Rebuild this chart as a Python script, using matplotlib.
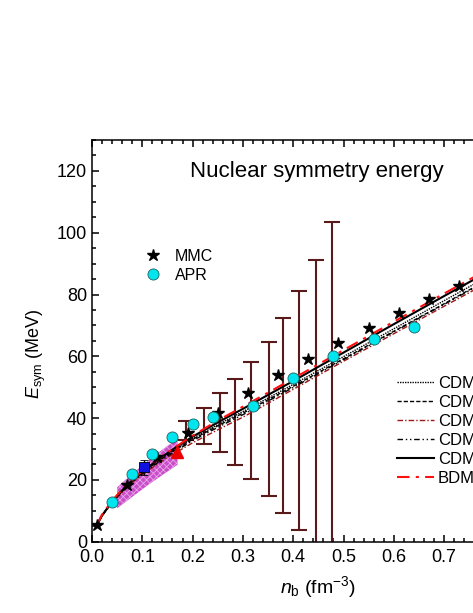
import numpy as np
import matplotlib
matplotlib.use("Agg")
import matplotlib.pyplot as plt
from matplotlib.lines import Line2D

plt.rcParams['font.family'] = ['Liberation Sans', 'DejaVu Sans']
plt.rcParams['mathtext.fontset'] = 'custom'
plt.rcParams['mathtext.rm'] = 'Liberation Sans'
plt.rcParams['mathtext.it'] = 'Liberation Sans:italic'
plt.rcParams['hatch.linewidth'] = 0.6

# model curves
nb_curve = [0.01, 0.02, 0.04, 0.07, 0.10, 0.13, 0.16, 0.20, 0.25, 0.30, 0.40, 0.50, 0.60, 0.70, 0.80, 0.90]
cdm_dot = [5.4, 8.5, 13.0, 18.3, 22.4, 26.1, 29.4, 33.4, 37.9, 42.1, 50.9, 59.9, 68.9, 78.0, 87.0, 96.0]
cdm_dash = [5.4, 8.5, 12.9, 18.2, 22.3, 25.9, 29.1, 33.1, 37.5, 41.6, 50.3, 59.2, 68.1, 77.0, 86.0, 95.0]
cdm_dashdot_red = [5.3, 8.3, 12.6, 17.8, 21.7, 25.1, 28.2, 32.0, 36.2, 40.3, 49.3, 58.4, 67.3, 76.2, 85.0, 93.8]
cdm_dashdotdot = [5.4, 8.4, 12.8, 18.0, 22.0, 25.5, 28.7, 32.7, 37.0, 41.1, 49.9, 58.9, 67.9, 76.8, 85.7, 94.6]
cdm_solid = [5.4, 8.5, 13.0, 18.4, 22.6, 26.4, 29.8, 34.0, 38.6, 43.0, 52.0, 61.2, 70.4, 79.5, 88.5, 97.5]
bdm_red = [5.6, 8.8, 13.3, 18.7, 22.9, 26.6, 30.0, 34.3, 39.2, 43.7, 52.8, 62.0, 71.2, 80.3, 89.3, 98.3]
curve_labels = ['CDM3Y3', 'CDM3Y4', 'CDM3Y5', 'CDM3Y6', 'CDM3Y8', 'BDM3Y1']

# MMC and APR points
nb_mmc = [0.01, 0.07, 0.13, 0.19, 0.25, 0.31, 0.37, 0.43, 0.49, 0.55, 0.61, 0.67, 0.73]
esym_mmc = [5.4, 18.4, 27.5, 35.1, 41.8, 48.1, 53.8, 59.1, 64.3, 69.2, 74.0, 78.6, 82.9]
nb_apr = [0.04, 0.08, 0.12, 0.16, 0.20, 0.24, 0.32, 0.40, 0.48, 0.56, 0.64]
esym_apr = [13.0, 21.8, 28.4, 34.0, 38.0, 40.5, 44.0, 53.0, 60.0, 65.6, 69.4]

# constraint error bars (lower / upper ends)
nb_bars = [0.186, 0.223, 0.254, 0.284, 0.317, 0.351, 0.380, 0.412, 0.445, 0.477]
bar_lo = [33.0, 31.7, 28.9, 24.9, 20.2, 14.8, 9.4, 3.8, -2.0, -9.0]
bar_hi = [39.2, 43.4, 48.1, 52.7, 58.2, 64.6, 72.3, 81.0, 91.3, 103.6]

# hatched band
nb_band = [0.05, 0.08, 0.11, 0.14, 0.17]
band_lo = [10.8, 14.5, 18.2, 21.6, 24.9]
band_hi = [17.6, 22.0, 26.0, 29.8, 33.3]

# single points
nb_square, esym_square, err_square = 0.103, 24.1, 2.5
nb_tri, esym_tri = 0.168, 29.0

fig = plt.figure(figsize=(4.73, 6.13), dpi=100)
ax = fig.add_axes([92/473, 71.3/613, 452.7/473, 401.7/613])

ax.fill_between(nb_band, band_lo, band_hi, facecolor='#c94fc9', edgecolor='#e9a3e9',
                hatch='xxxxx', linewidth=0, zorder=1)

lo = np.array(bar_lo)
hi = np.array(bar_hi)
ax.errorbar(nb_bars, (lo + hi) / 2, yerr=(hi - lo) / 2, fmt='none', ecolor='#5a1a1a',
            elinewidth=1.5, capsize=5.5, capthick=1.5, zorder=2)

dark_red = '#a01515'
styles = [
    dict(color='black', ls=(0, (1, 0.8)), lw=1.0),
    dict(color='black', ls=(0, (3, 1.5)), lw=1.0),
    dict(color=dark_red, ls=(0, (4, 1.5, 1, 1.5)), lw=1.0),
    dict(color='black', ls=(0, (4, 2, 1, 2, 1, 2)), lw=1.0),
    dict(color='black', ls='-', lw=1.5),
    dict(color='#ff1010', ls=(0, (6, 3, 1.5, 3)), lw=1.5),
]
curves = [cdm_dot, cdm_dash, cdm_dashdot_red, cdm_dashdotdot, cdm_solid, bdm_red]
handles = []
for ys, st, lab in zip(curves, styles, curve_labels):
    h, = ax.plot(nb_curve, ys, label=lab, zorder=3, **st)
    handles.append(h)

ax.errorbar([nb_square], [esym_square], yerr=[err_square], fmt='s', color='#1010e0',
            mec='black', mew=0.6, ms=7, ecolor='black', elinewidth=1, capsize=3, zorder=4)
ax.plot([nb_tri], [esym_tri], '^', color='#ee0000', mec='#ee0000', ms=8, zorder=4)

ax.plot(nb_mmc, esym_mmc, '*', color='black', ms=9, ls='none', zorder=5)
ax.plot(nb_apr, esym_apr, 'o', mfc='#00e5ee', mec='#206060', mew=0.6, ms=8, ls='none', zorder=5)

ax.set_xlim(0, 0.9)
ax.set_ylim(0, 130)
ax.set_xticks(np.arange(0, 0.91, 0.1))
ax.set_xticks(np.arange(0, 0.91, 0.02), minor=True)
ax.set_yticks(np.arange(0, 121, 20))
ax.set_yticks(np.arange(0, 131, 5), minor=True)
ax.xaxis.set_major_formatter(matplotlib.ticker.FormatStrFormatter('%.1f'))
ax.tick_params(which='both', direction='in', top=True, right=True, labelsize=13, width=1.1)
ax.tick_params(which='major', length=5)
ax.tick_params(which='minor', length=3)
ax.tick_params(axis='x', pad=5)
for sp in ax.spines.values():
    sp.set_linewidth(1.1)

ax.set_xlabel(r'$n_{\mathrm{b}}$ (fm$^{-3}$)', fontsize=14, labelpad=6)
ax.set_ylabel(r'$E_{\mathrm{sym}}$ (MeV)', fontsize=13)
ax.yaxis.set_label_coords(-44/452.7, 0.468)
ax.text(0.195, 119.8, 'Nuclear symmetry energy', fontsize=16, ha='left', va='center')

pts = [Line2D([], [], marker='*', color='black', ls='none', ms=9),
       Line2D([], [], marker='o', mfc='#00e5ee', mec='#206060', mew=0.6, ls='none', ms=8)]
leg1 = ax.legend(pts, ['MMC', 'APR'], loc='upper left', bbox_to_anchor=(135/473, 1 - 241/613),
                 bbox_transform=fig.transFigure, frameon=False, fontsize=11.5,
                 handlelength=1.2, handletextpad=0.8, labelspacing=0.25, borderpad=0)
ax.add_artist(leg1)
ax.legend(handles, curve_labels, loc='upper left', bbox_to_anchor=(397/473, 1 - 376/613),
          bbox_transform=fig.transFigure, frameon=False, fontsize=12,
          handlelength=2.2, handletextpad=0.25, labelspacing=0.24, borderpad=0,
          borderaxespad=0)

fig.savefig('out.png', dpi=100)
